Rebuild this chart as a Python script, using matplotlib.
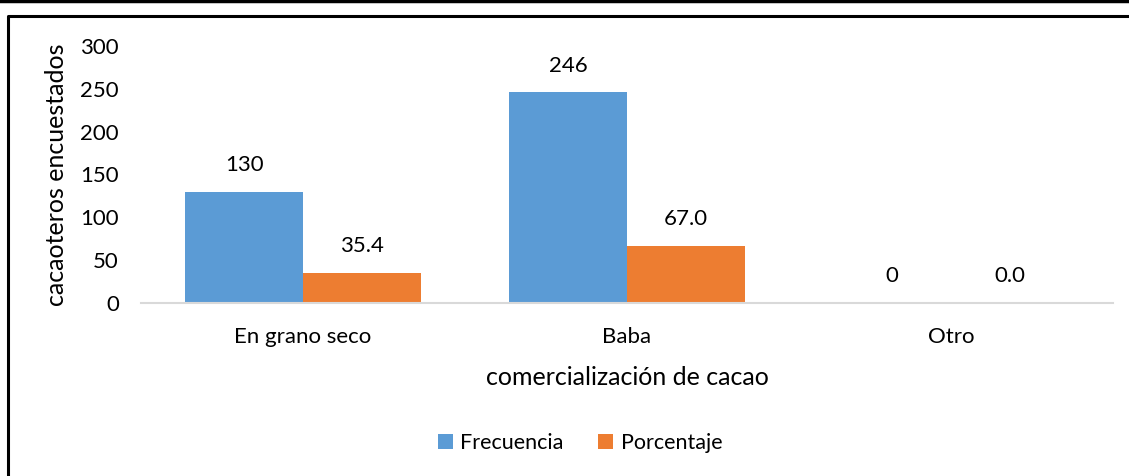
import matplotlib.pyplot as plt
import numpy as np
from matplotlib.lines import Line2D

categories = ["En grano seco", "Baba", "Otro"]
frecuencia = [130, 246, 0]
porcentaje = [35.4, 67.0, 0.0]

plt.rcParams["font.family"] = ["Lato", "DejaVu Sans"]

fig = plt.figure(figsize=(11.29, 4.76), dpi=100)
ax = fig.add_axes([141 / 1129, 1 - 303 / 476, (1113 - 141) / 1129, (303 - 46) / 476])

x = np.arange(len(categories))
w = 0.364
b1 = ax.bar(x - w / 2, frecuencia, w, color="#5B9BD5", label="Frecuencia")
b2 = ax.bar(x + w / 2, porcentaje, w, color="#ED7D31", label="Porcentaje")
ax.bar_label(b1, labels=[f"{v:d}" for v in frecuencia], padding=12, fontsize=16)
ax.bar_label(b2, labels=[f"{v:.1f}" for v in porcentaje], padding=12, fontsize=16)

ax.set_xlim(-0.5, 2.5)
ax.set_ylim(0, 300)
ax.set_yticks(range(0, 301, 50))
ax.set_xticks(x, categories)
ax.tick_params(length=0, labelsize=16, colors="black")
ax.tick_params(axis="x", pad=17)
ax.tick_params(axis="y", pad=16)
for s in ["top", "right", "left"]:
    ax.spines[s].set_visible(False)
ax.spines["bottom"].set_color("#D9D9D9")
ax.spines["bottom"].set_linewidth(1.5)

ax.set_xlabel("comercialización de cacao", fontsize=18, labelpad=14)
ax.set_ylabel("cacaoteros encuestados", fontsize=18, labelpad=9)

fig.legend(loc="center", bbox_to_anchor=(580 / 1129, 1 - 443 / 476), ncol=2,
           frameon=False, fontsize=15.5, handlelength=0.7, handleheight=0.7,
           handletextpad=0.35, columnspacing=1.6)

# outer frame lines
fig.add_artist(Line2D([0, 1], [1 - 1 / 476, 1 - 1 / 476], color="black", lw=2.5))
fig.add_artist(Line2D([8 / 1129, 8 / 1129, 1], [0, 1 - 16 / 476, 1 - 16 / 476],
                      color="black", lw=2.2))

fig.savefig("out.png", dpi=100)
